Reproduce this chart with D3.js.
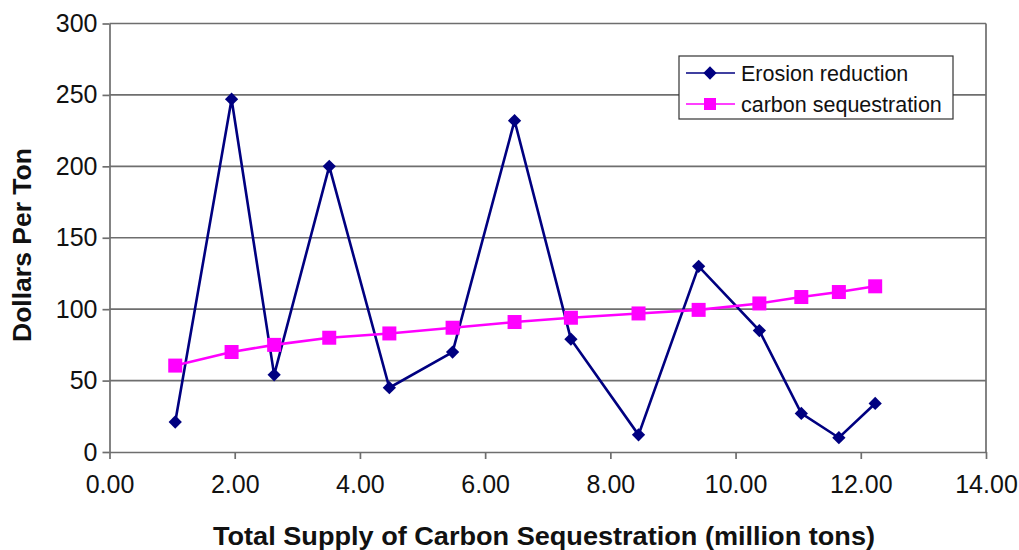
<!DOCTYPE html>
<html>
<head>
<meta charset="utf-8">
<script src="https://cdn.jsdelivr.net/npm/d3@7"></script>
<style>
  body { margin: 0; background: #fff; }
  svg { display: block; font-family: "Liberation Sans", Arial, sans-serif; }
</style>
</head>
<body>
<script>
// supply (million tons) for each point
var supply = [1.05, 1.95, 2.63, 3.51, 4.47, 5.48, 6.47, 7.37, 8.45, 9.41, 10.38, 11.05, 11.65, 12.23];
var erosion = [21, 247, 54, 200, 45, 70, 232, 79, 12, 130, 85, 27, 10, 34];
var carbon = [60.5, 70, 75, 80, 83, 87, 91, 94, 97, 99.5, 104, 108.5, 112, 116];
var seriesNames = ["Erosion reduction", "carbon sequestration"];
var xTicks = [0, 2, 4, 6, 8, 10, 12, 14];
var yTicks = [0, 50, 100, 150, 200, 250, 300];

var w = 1019, h = 550;
var margin = { top: 23.5, right: 33, bottom: 98, left: 109.5 };
var iw = w - margin.left - margin.right,
    ih = h - margin.top - margin.bottom;

var navy = "#000080", pink = "#ff00ff", grid = "#6e6e6e";

var svg = d3.select("body").append("svg")
    .attr("width", w)
    .attr("height", h);

var g = svg.append("g")
    .attr("transform", "translate(" + margin.left + "," + margin.top + ")");

var xScale = d3.scaleLinear().domain([0, 14]).range([0, iw]);
var yScale = d3.scaleLinear().domain([0, 300]).range([ih, 0]);

// gridlines
g.selectAll(".grid")
  .data(yTicks.filter(function(d) { return d > 0; }))
  .enter().append("line")
    .attr("x1", 0).attr("x2", iw)
    .attr("y1", function(d) { return yScale(d); })
    .attr("y2", function(d) { return yScale(d); })
    .attr("stroke", grid)
    .attr("stroke-width", 1.7);

// right border of plot area
g.append("line")
  .attr("x1", iw).attr("x2", iw)
  .attr("y1", 0).attr("y2", ih)
  .attr("stroke", grid).attr("stroke-width", 1.7);

var xAxis = g.append("g")
  .attr("transform", "translate(0," + ih + ")")
  .call(d3.axisBottom(xScale).tickValues(xTicks).tickFormat(d3.format(".2f"))
        .tickSize(7).tickPadding(10).tickSizeOuter(0));

var yAxis = g.append("g")
  .call(d3.axisLeft(yScale).tickValues(yTicks).tickSize(7).tickPadding(5).tickSizeOuter(0));

[xAxis, yAxis].forEach(function(a) {
  a.select(".domain").attr("stroke", grid).attr("stroke-width", 1.7);
  a.selectAll(".tick line").attr("stroke", grid).attr("stroke-width", 1.7);
  a.selectAll(".tick text")
    .attr("fill", "#111")
    .style("font-size", "25px")
    .style("font-family", "'Liberation Sans', Arial, sans-serif");
});
xAxis.selectAll(".tick text").attr("dy", "0.95em");

// series lines
var line = function(ys) {
  return d3.line()
    .x(function(d, i) { return xScale(supply[i]); })
    .y(function(d) { return yScale(d); })(ys);
};

g.append("path")
  .attr("d", line(erosion))
  .attr("fill", "none")
  .attr("stroke", navy)
  .attr("stroke-width", 2.6);

g.append("path")
  .attr("d", line(carbon))
  .attr("fill", "none")
  .attr("stroke", pink)
  .attr("stroke-width", 2.6);

var diamond = d3.symbol().type(d3.symbolSquare).size(88);

g.selectAll(".ero")
  .data(erosion)
  .enter().append("path")
    .attr("d", diamond)
    .attr("transform", function(d, i) {
      return "translate(" + xScale(supply[i]) + "," + yScale(d) + ")rotate(45)";
    })
    .attr("fill", navy);

g.selectAll(".carb")
  .data(carbon)
  .enter().append("rect")
    .attr("x", function(d, i) { return xScale(supply[i]) - 7; })
    .attr("y", function(d) { return yScale(d) - 7; })
    .attr("width", 14)
    .attr("height", 14)
    .attr("fill", pink);

// axis titles
svg.append("text")
  .attr("x", 213)
  .attr("y", 545)
  .attr("textLength", 662)
  .attr("lengthAdjust", "spacingAndGlyphs")
  .style("font-size", "25.5px")
  .style("font-weight", "bold")
  .attr("fill", "#111")
  .text("Total Supply of Carbon Sequestration (million tons)");

svg.append("text")
  .attr("transform", "translate(31,342)rotate(-90)")
  .attr("textLength", 194)
  .attr("lengthAdjust", "spacingAndGlyphs")
  .style("font-size", "25.5px")
  .style("font-weight", "bold")
  .attr("fill", "#111")
  .text("Dollars Per Ton");

// legend
var legend = svg.append("g").attr("transform", "translate(679,56)");
legend.append("rect")
  .attr("width", 274).attr("height", 63)
  .attr("fill", "#fff")
  .attr("stroke", "#333")
  .attr("stroke-width", 1.2);

var colors = [navy, pink];
seriesNames.forEach(function(name, i) {
  var ly = 17 + i * 31;
  legend.append("line")
    .attr("x1", 7).attr("x2", 56)
    .attr("y1", ly).attr("y2", ly)
    .attr("stroke", colors[i]).attr("stroke-width", 1.6);
  if (i === 0) {
    legend.append("path")
      .attr("d", diamond)
      .attr("transform", "translate(31," + ly + ")rotate(45)")
      .attr("fill", navy);
  } else {
    legend.append("rect")
      .attr("x", 25).attr("y", ly - 6)
      .attr("width", 12).attr("height", 12)
      .attr("fill", pink);
  }
  legend.append("text")
    .attr("x", 62)
    .attr("y", ly + 7.5)
    .style("font-size", "21.5px")
    .attr("fill", "#111")
    .text(name);
});
</script>
</body>
</html>
